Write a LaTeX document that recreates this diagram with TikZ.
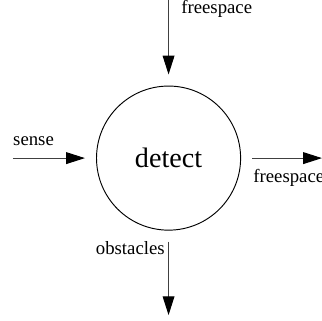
\documentclass[tikz,border=0pt]{standalone}
\usepackage{fontspec}
\setmainfont{Liberation Serif}
\usepackage{tikz}
\usetikzlibrary{arrows.meta,positioning}

\begin{document}
\begin{tikzpicture}[
  proc/.style={circle, draw=black, line width=0.6pt, minimum size=3.24cm,
               inner sep=0pt, outer sep=0.26cm, font=\fontsize{18}{20}\selectfont},
  lbl/.style={inner sep=0pt, font=\fontsize{12}{14}\selectfont},
  arr/.style={-{Triangle[length=12pt,width=7.5pt,black]}, line width=0.65pt, draw=black!75}
]
\useasboundingbox (-3.79,-3.645) rectangle (3.45,3.555);
\node[proc] (detect) at (0,0) {detect};

\coordinate (top) at (0,3.555);
\coordinate (left) at (-3.5,0);
\coordinate (right) at (3.45,0);
\coordinate (bottom) at (0,-3.53);

\node[lbl, anchor=west] (ltop) at (0.28,3.35) {freespace};
\node[lbl, anchor=west] (lsense) at (-3.5,0.38) {sense};
\node[lbl, anchor=west] (lright) at (1.9,-0.45) {freespace};
\node[lbl, anchor=east] (lobst) at (-0.08,-2.03) {obstacles};

\draw[arr] (top) -- (detect);
\draw[arr] (left) -- (detect);
\draw[arr] (detect) -- (right);
\draw[arr] (detect) -- (bottom);
\end{tikzpicture}
\end{document}
